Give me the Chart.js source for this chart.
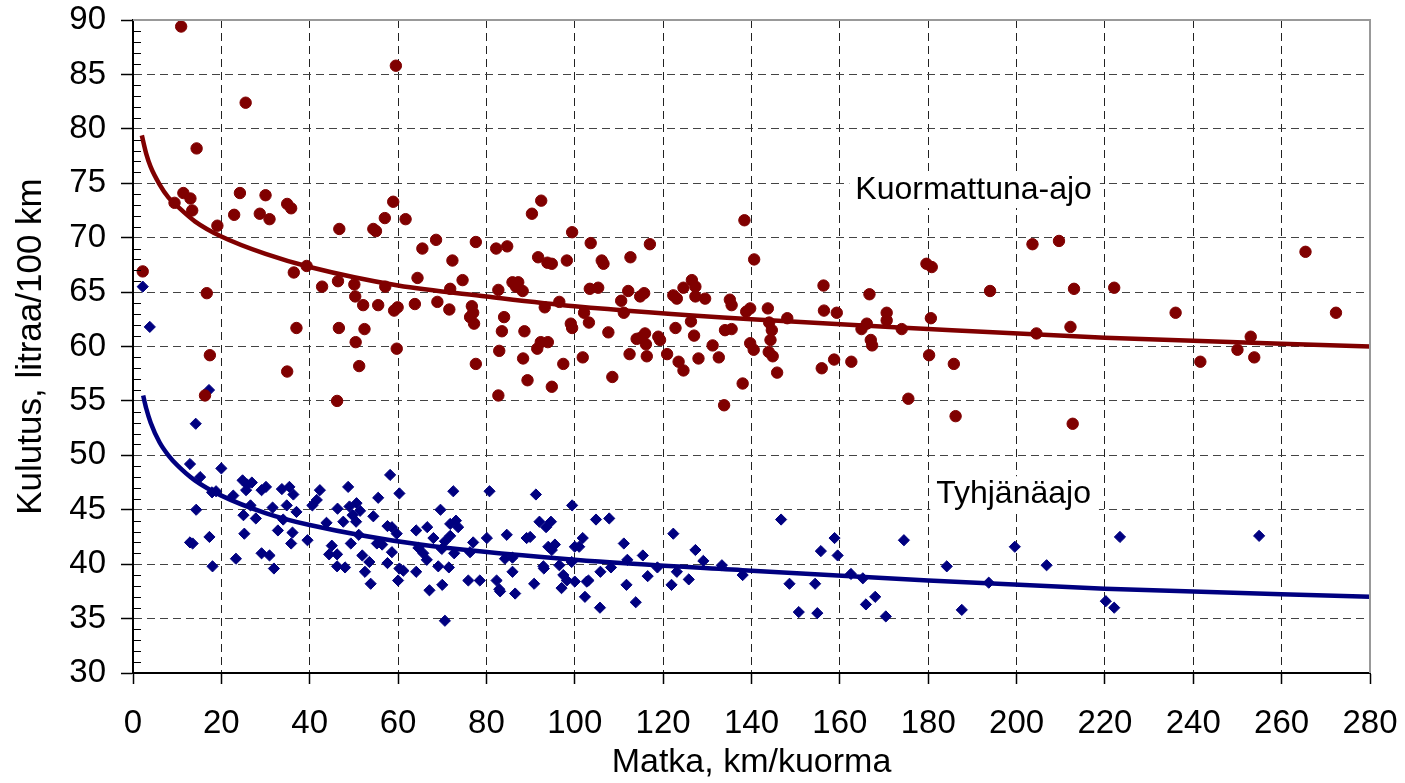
<!DOCTYPE html>
<html>
<head>
<meta charset="utf-8">
<script src="https://cdn.jsdelivr.net/npm/chart.js@4.4.0/dist/chart.umd.min.js"></script>
<style>
  html, body { margin: 0; padding: 0; background: #fff; }
  #wrap { width: 1405px; height: 783px; }
</style>
</head>
<body>
<div id="wrap"><canvas id="chart" width="1405" height="783"></canvas></div>
<script>
// Kuormattuna-ajo (loaded trips)
const loadedX = [
  10.9, 59.5, 25.5, 14.4, 11.4, 13.0, 9.4, 13.4, 19.1, 24.2, 22.9, 30.0, 28.7, 30.9, 34.9, 35.8, 46.7, 54.4, 55.0, 57.0,
  58.9, 61.7, 65.5, 68.6, 64.4, 68.9, 2.2, 16.7, 36.4, 39.3, 42.8, 46.4, 50.1, 57.1, 50.3, 52.1, 55.5, 59.1, 59.9, 63.8,
  37.0, 46.6, 52.4, 50.4, 59.7, 17.4, 51.2, 34.9, 16.3, 46.2,
  72.3, 77.6, 74.6, 71.8, 71.6, 76.7, 77.0, 76.3, 77.2, 77.6, 82.2, 84.7, 82.7, 84.0, 83.5, 82.9, 82.7, 85.9, 87.2, 86.7,
  88.2, 88.6, 88.3, 89.3, 90.3, 92.4, 91.7, 93.8, 94.8, 93.2, 96.5, 91.5, 92.3, 93.9, 94.8, 97.4, 99.4, 98.2, 99.1, 99.4,
  102.1, 101.8, 103.2, 103.4, 105.3, 103.6, 106.1, 106.5, 107.6, 108.5, 110.5, 111.1, 112.1, 112.6, 112.4, 114.8, 115.7,
  114.0, 114.9, 115.9, 116.1, 116.3, 117.0, 118.9, 119.3, 120.9, 122.3, 123.1, 124.6, 126.5, 127.3, 127.3, 129.5, 122.8,
  126.3, 127.0, 123.5, 124.6, 128.0, 131.2, 132.6, 135.1, 135.5, 134.0, 135.5, 133.8, 138.0, 138.4,
  140.6, 138.8, 139.7, 143.7, 144.0, 144.6, 144.3, 139.7, 140.5, 143.9, 144.8, 145.8, 148.1, 156.3, 156.4, 159.3, 155.9,
  158.7, 162.6, 166.7, 164.9, 166.1, 167.0, 167.3, 170.6, 170.6, 174.0, 175.5, 179.6, 180.8, 180.6, 180.2, 185.8, 186.2,
  194.0, 203.6, 204.5,
  209.6, 213.0, 212.2, 212.7, 222.1, 236.0, 241.6, 250.0, 253.0, 253.8, 265.4, 272.3
];
const loadedY = [
  89.4, 85.8, 82.4, 78.2, 74.1, 73.6, 73.2, 72.5, 71.1, 74.1, 72.1, 73.9, 72.2, 71.7, 73.1, 72.7, 70.8, 70.8, 70.6, 71.8,
  73.3, 71.7, 69.0, 69.8, 66.3, 64.1, 66.9, 64.9, 66.8, 67.4, 65.5, 66.0, 65.7, 65.5, 64.6, 63.8, 63.8, 63.3, 63.6, 63.9,
  61.7, 61.7, 61.6, 60.4, 59.8, 59.2, 58.2, 57.7, 55.5, 55.0,
  67.9, 69.6, 66.1, 65.3, 63.4, 63.7, 63.1, 62.7, 62.1, 58.4, 69.0, 69.2, 65.2, 62.7, 61.4, 59.6, 55.5, 65.9, 65.9, 65.5,
  65.1, 61.4, 58.9, 56.9, 72.2, 73.4, 68.2, 67.7, 67.6, 63.6, 64.1, 59.8, 60.4, 60.4, 56.3, 58.4, 70.5, 67.9, 62.1, 61.7,
  63.1, 59.0, 62.2, 65.3, 65.4, 69.5, 67.9, 67.6, 61.3, 57.2, 64.2, 63.1, 65.1, 68.2, 59.3, 64.6, 64.9,
  60.7, 60.8, 61.2, 60.2, 59.1, 69.4, 60.9, 60.6, 59.3, 64.7, 64.4, 65.4, 66.1, 65.5, 64.6, 64.4, 61.7,
  62.3, 61.0, 58.6, 57.8, 58.9, 60.1, 59.0, 64.3, 63.8, 61.5, 61.6, 54.6, 56.6, 71.6,
  68.0, 63.2, 63.5, 63.5, 62.2, 61.5, 60.6, 60.3, 59.7, 59.5, 59.1, 57.6, 62.6, 65.6, 63.3, 63.1, 58.0,
  58.8, 58.6, 64.8, 61.6, 62.1, 60.6, 60.1, 63.1, 62.4, 61.6, 55.2, 67.6, 67.3, 62.6, 59.2, 58.4, 53.6,
  65.1, 69.4, 61.2,
  69.7, 65.3, 61.8, 52.9, 65.4, 63.1, 58.6, 59.7, 60.9, 59.0, 68.7, 63.1
];

// Tyhjänäajo (empty trips)
const emptyX = [
  2.2, 3.8, 17.2, 14.2, 12.9, 15.2, 20.0, 17.9, 18.8, 14.3, 12.9, 13.5, 17.3, 18.0, 22.7, 24.8, 25.9, 26.9, 25.6, 26.6,
  25.0, 27.8, 25.2, 23.3, 29.1, 30.1, 31.6, 32.8, 29.1, 30.9, 31.9, 33.7, 35.4, 36.3, 34.8, 34.0, 37.0, 36.1, 35.8, 39.5,
  42.3, 41.6, 40.6, 43.8, 46.3, 48.7, 47.6, 49.0, 50.6, 49.7, 51.4, 50.5, 45.0, 44.4, 46.2, 46.2, 48.0, 49.3, 51.9, 53.5,
  52.5, 53.8, 51.1, 55.5, 54.4, 58.2, 60.3, 57.6, 58.6, 59.7, 55.2, 56.4, 58.6, 57.6, 60.3, 61.2, 60.0, 64.1, 66.6, 64.6,
  65.7, 66.5, 64.1, 67.1, 68.0, 69.6, 69.1, 70.0, 70.6, 72.5, 71.8, 73.1, 73.6, 71.8, 70.6, 69.9, 72.7, 71.5, 77.0, 76.3,
  75.9, 78.5, 80.1, 80.7, 84.2, 85.9, 84.6, 82.3, 82.9, 83.1, 85.9, 86.5, 89.1, 89.9, 91.2, 92.0, 93.5, 94.6, 94.0, 95.5,
  94.8, 92.9, 93.0, 90.8, 96.5, 97.0, 97.4, 98.2, 99.4, 100.0, 101.0, 101.8, 99.3, 100.0, 102.7, 103.1, 102.3, 104.8, 107.8,
  105.8, 105.7, 108.2, 111.1, 111.9, 111.7, 113.8, 115.4, 116.5, 118.7, 122.3, 121.9, 123.1, 125.8, 127.3, 129.1, 133.3,
  138.0, 146.7, 148.6, 150.7, 154.4, 154.9, 155.7, 158.8, 159.5, 162.5, 165.2, 165.9, 168.0, 170.4, 174.5, 184.2, 187.6,
  193.7, 199.6, 206.8, 220.2, 222.1, 223.4, 254.9
];
const emptyY = [
  65.5, 61.8, 56.0, 52.9, 49.2, 48.0, 48.8, 46.6, 46.7, 45.0, 42.0, 41.9, 42.5, 39.8, 46.3, 47.7, 47.3, 47.5, 46.8, 45.4,
  44.5, 44.2, 42.8, 40.5, 46.8, 47.1, 45.2, 43.1, 41.0, 40.8, 39.6, 46.9, 47.1, 46.4, 45.4, 44.1, 44.8, 42.9, 41.9, 42.2,
  46.8, 45.9, 45.4, 43.8, 45.1, 47.1, 43.9, 45.3, 45.6, 44.5, 44.9, 43.9, 41.7, 40.9, 40.9, 39.8, 39.7, 41.9, 40.8, 40.2,
  39.3, 38.2, 42.7, 46.1, 44.4, 48.2, 46.5, 43.5, 43.4, 42.8, 41.9, 41.8, 41.1, 40.1, 39.6, 39.4, 38.5, 43.1, 43.4, 41.5,
  41.0, 40.4, 39.3, 37.6, 42.4, 45.0, 39.8, 38.1, 34.8, 46.7, 43.7, 44.0, 43.4, 42.6, 42.1, 41.4, 41.0, 39.7, 42.0, 41.1,
  38.5, 38.5, 42.4, 46.7, 40.5, 40.6, 42.7, 38.5, 37.7, 37.5, 39.3, 37.3, 42.4, 42.5, 46.4, 43.9, 43.4, 43.9, 41.6, 41.8,
  41.3, 39.8, 39.6, 38.2, 39.9, 37.8, 39.0, 38.5, 45.4, 41.6, 41.6, 42.4, 40.2, 38.4, 38.4, 38.5, 37.0, 44.1, 44.2,
  39.3, 36.0, 39.7, 41.9, 40.4, 38.1, 36.5, 40.8, 38.9, 39.7, 42.8, 38.1, 39.3, 38.6, 41.3, 40.3, 39.9,
  39.0, 44.1, 38.2, 35.6, 38.2, 35.5, 41.2, 42.4, 40.8, 39.1, 38.7, 36.3, 37.0, 35.2, 42.2, 39.8, 35.8,
  38.3, 41.6, 39.9, 36.6, 36.0, 42.5, 42.6
];

// trend lines
const loadedTrendX = [2, 3, 4, 6, 8, 10, 14, 20, 30, 40, 60, 80, 100, 140, 180, 220, 280];
const loadedTrendY = [79.4, 77.7, 76.5, 74.9, 73.7, 72.9, 71.5, 70.1, 68.5, 67.3, 65.6, 64.6, 63.7, 62.5, 61.6, 60.8, 60.0];
const emptyTrendX = [2.3, 3, 4, 6, 8, 10, 14, 20, 30, 40, 65, 100, 140, 180, 220, 280];
const emptyTrendY = [55.5, 54.3, 53.0, 51.2, 50.0, 49.1, 47.7, 46.3, 44.7, 43.6, 41.8, 40.4, 39.4, 38.5, 37.75, 37.0];

// series labels inside the plot (x, baseline y in data units)
const seriesLabels = ['Kuormattuna-ajo', 'Tyhjänäajo'];
const seriesLabelX = [163.5, 181.8];
const seriesLabelY = [73.55, 45.6];

const red = '#800000';
const blue = '#000080';
const fontFamily = '"Liberation Sans", Arial, sans-serif';

Chart.defaults.font.family = fontFamily;
Chart.defaults.color = '#000';

const pts = (xs, ys) => xs.map((x, i) => ({ x: x, y: ys[i] }));

// harmaa kehys ylä- ja oikealle, pienet jakoviivat y-akselille, sarjojen nimet
const plotExtras = {
  id: 'plotExtras',
  beforeDatasetsDraw(chart) {
    const { ctx, scales: { x, y } } = chart;
    ctx.save();
    ctx.font = '32px ' + fontFamily;
    ctx.textBaseline = 'alphabetic';
    seriesLabels.forEach((t, i) => {
      const px = x.getPixelForValue(seriesLabelX[i]);
      const py = y.getPixelForValue(seriesLabelY[i]);
      const w = ctx.measureText(t).width;
      ctx.fillStyle = '#fff';
      ctx.fillRect(px - 6, py - 27, w + 14, 36);
      ctx.fillStyle = '#000';
      ctx.fillText(t, px, py);
    });
    ctx.restore();
  },
  afterDraw(chart) {
    const { ctx, chartArea: a, scales: { y } } = chart;
    ctx.save();
    ctx.strokeStyle = '#999';
    ctx.lineWidth = 2;
    ctx.beginPath();
    ctx.moveTo(a.left, a.top);
    ctx.lineTo(a.right, a.top);
    ctx.lineTo(a.right, a.bottom);
    ctx.stroke();

    ctx.strokeStyle = '#000';
    ctx.lineWidth = 1;
    ctx.beginPath();
    for (let v = y.min + 1; v < y.max; v++) {
      if (v % 5 === 0) continue;
      const py = Math.round(y.getPixelForValue(v)) + 0.5;
      ctx.moveTo(a.left, py);
      ctx.lineTo(a.left + 8, py);
    }
    ctx.stroke();
    ctx.restore();
  }
};

new Chart(document.getElementById('chart').getContext('2d'), {
  type: 'scatter',
  data: {
    datasets: [
      {
        label: 'Kuormattuna-ajo trendi',
        data: pts(loadedTrendX, loadedTrendY),
        showLine: true,
        borderColor: red,
        borderWidth: 4.5,
        pointRadius: 0,
        cubicInterpolationMode: 'monotone',
        order: 0
      },
      {
        label: 'Tyhjänäajo trendi',
        data: pts(emptyTrendX, emptyTrendY),
        showLine: true,
        borderColor: blue,
        borderWidth: 4.5,
        pointRadius: 0,
        cubicInterpolationMode: 'monotone',
        order: 0
      },
      {
        label: 'Kuormattuna-ajo',
        data: pts(loadedX, loadedY),
        pointStyle: 'circle',
        pointRadius: 5.7,
        borderWidth: 1,
        backgroundColor: red,
        borderColor: red,
        order: 1
      },
      {
        label: 'Tyhjänäajo',
        data: pts(emptyX, emptyY),
        pointStyle: 'rectRot',
        pointRadius: 5.6,
        borderWidth: 1,
        backgroundColor: blue,
        borderColor: blue,
        order: 2
      }
    ]
  },
  options: {
    responsive: false,
    animation: false,
    events: [],
    layout: { padding: { top: 20, right: 35, left: 0, bottom: 0 } },
    plugins: {
      legend: { display: false },
      tooltip: { enabled: false }
    },
    scales: {
      x: {
        type: 'linear',
        min: 0,
        max: 280,
        ticks: { stepSize: 20, padding: 20, color: '#000', font: { size: 33 } },
        grid: { color: '#222', lineWidth: 1, tickLength: 11, tickColor: '#000', tickWidth: 1.5 },
        border: { color: '#000', width: 2, dash: [8, 5] },
        title: { display: true, text: 'Matka, km/kuorma', color: '#000', font: { size: 34 }, padding: { top: 0, bottom: 0 } },
        afterFit(s) { s.height = 110; s.paddingLeft = 0; s.paddingRight = 0; }
      },
      y: {
        type: 'linear',
        min: 30,
        max: 90,
        ticks: { stepSize: 5, padding: 15, color: '#000', font: { size: 33 } },
        grid: { color: '#444', lineWidth: 1, tickLength: 12, tickColor: '#000', tickWidth: 1.5 },
        border: { color: '#000', width: 2, dash: [8, 5] },
        title: { display: true, text: 'Kulutus, litraa/100 km', color: '#000', font: { size: 35 }, padding: { top: 10, bottom: 0 } },
        afterFit(s) { s.width = 133; s.paddingTop = 0; s.paddingBottom = 0; }
      }
    }
  },
  plugins: [plotExtras]
});
</script>
</body>
</html>
